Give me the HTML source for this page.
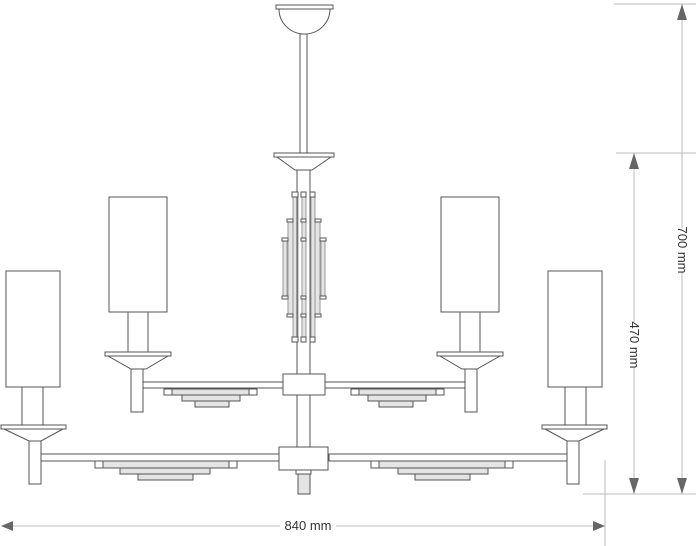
<!DOCTYPE html>
<html><head><meta charset="utf-8"><style>
html,body{margin:0;padding:0;background:#fff;width:700px;height:546px;overflow:hidden}
svg{display:block}
text{font-family:"Liberation Sans",sans-serif;font-size:13px;fill:#333}
</style></head><body>
<svg width="700" height="546" viewBox="0 0 700 546" xmlns="http://www.w3.org/2000/svg">
<defs>
<g id="half" fill="#fff" stroke="#555" stroke-width="1">
  <rect x="143" y="382" width="140" height="6"/>
  <rect x="172" y="389" width="77" height="6" fill="#e4e4e4"/>
  <rect x="164" y="389" width="8" height="6"/><rect x="249" y="389" width="8" height="6"/>
  <rect x="182" y="395" width="58" height="6" fill="#e4e4e4"/>
  <rect x="195" y="401" width="34" height="6" fill="#e4e4e4"/>
  <rect x="109" y="197" width="58" height="115"/>
  <rect x="128" y="312" width="20" height="40"/>
  <rect x="105" y="352" width="66" height="4"/>
  <polygon points="108,356 168,356 146,369 131,369"/>
  <rect x="131" y="369" width="12" height="43"/>
  <rect x="41" y="454" width="238" height="7"/>
  <rect x="103" y="461" width="126" height="7" fill="#e4e4e4"/>
  <rect x="95" y="461" width="8" height="7"/><rect x="229" y="461" width="8" height="7"/>
  <rect x="120" y="468" width="90" height="6" fill="#e4e4e4"/>
  <rect x="138" y="474" width="55" height="6" fill="#e4e4e4"/>
  <rect x="6" y="271" width="54" height="116"/>
  <rect x="22" y="387" width="21" height="38"/>
  <rect x="1" y="425" width="65" height="4"/>
  <polygon points="4,429 63,429 41,441 29,441"/>
  <rect x="29" y="441" width="12" height="43"/>
</g>
</defs>
<use href="#half"/>
<use href="#half" transform="matrix(-1 0 0 1 608 0)"/>
<g fill="#fff" stroke="#555" stroke-width="1">
  <path d="M279,9 A25.5,25 0 0 0 330,9 Z"/>
  <rect x="276" y="5" width="57" height="4"/>
  <rect x="300" y="34" width="7" height="119"/>
  <rect x="274" y="153" width="60" height="4"/>
  <polygon points="277,157 331,157 312,170 295,170"/>
  <rect x="297" y="170" width="13" height="277"/>
  <g fill="#e4e4e4" stroke="#999">
    <rect x="293" y="192" width="5" height="150"/><rect x="302" y="192" width="4" height="150"/><rect x="311" y="192" width="4" height="150"/>
    <rect x="288" y="219" width="5" height="95"/><rect x="315" y="219" width="5" height="95"/>
    <rect x="283" y="238" width="4" height="58"/><rect x="321" y="238" width="4" height="58"/>
  </g>
  <line x1="297" y1="170" x2="297" y2="447"/><line x1="310" y1="170" x2="310" y2="447"/>
  <g>
    <rect x="292" y="192" width="6" height="5"/><rect x="301" y="192" width="5" height="5"/><rect x="310" y="192" width="5" height="5"/>
    <rect x="292" y="337" width="6" height="5"/><rect x="301" y="337" width="5" height="5"/><rect x="310" y="337" width="5" height="5"/>
    <rect x="287" y="219" width="6" height="3"/><rect x="301" y="219" width="5" height="3"/><rect x="315" y="219" width="6" height="3"/>
    <rect x="287" y="314" width="6" height="3"/><rect x="301" y="314" width="5" height="3"/><rect x="315" y="314" width="6" height="3"/>
    <rect x="282" y="238" width="6" height="3"/><rect x="301" y="238" width="5" height="3"/><rect x="320" y="238" width="6" height="3"/>
    <rect x="282" y="296" width="6" height="3"/><rect x="301" y="296" width="5" height="3"/><rect x="320" y="296" width="6" height="3"/>
  </g>
  <rect x="283" y="374" width="42" height="21"/>
  <rect x="279" y="447" width="49" height="23"/>
  <rect x="296" y="470" width="15" height="4"/>
  <rect x="298" y="474" width="12" height="20" fill="#e4e4e4"/>
</g>
<g stroke="#bbb" stroke-width="1" fill="none">
  <line x1="614" y1="4" x2="696" y2="4"/>
  <line x1="616" y1="153" x2="696" y2="153"/>
  <line x1="583" y1="494" x2="696" y2="494"/>
  <line x1="605" y1="460" x2="605" y2="546"/>
  <line x1="682" y1="4" x2="682" y2="228"/><line x1="682" y1="272" x2="682" y2="494"/>
  <line x1="634" y1="153" x2="634" y2="322"/><line x1="634" y1="368" x2="634" y2="494"/>
  <line x1="2" y1="526" x2="280" y2="526"/><line x1="336" y1="526" x2="605" y2="526"/>
</g>
<g fill="#666">
  <polygon points="682,4 677,20 687,20"/><polygon points="682,494 677,478 687,478"/>
  <polygon points="634,153 629,169 639,169"/><polygon points="634,494 629,478 639,478"/>
  <polygon points="1,526 13,521 13,531"/><polygon points="605,526 593,521 593,531"/>
</g>
<text x="308" y="530" text-anchor="middle">840 mm</text>
<text transform="translate(678,250) rotate(90)" text-anchor="middle">700 mm</text>
<text transform="translate(630,345) rotate(90)" text-anchor="middle">470 mm</text>
</svg>
</body></html>
